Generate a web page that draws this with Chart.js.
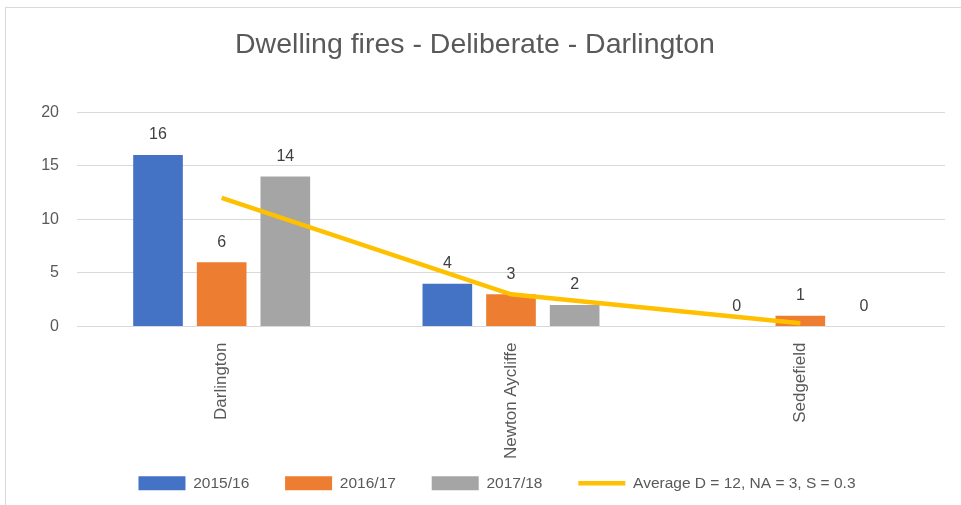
<!DOCTYPE html>
<html>
<head>
<meta charset="utf-8">
<script src="https://cdn.jsdelivr.net/npm/chart.js@4.4.1/dist/chart.umd.min.js"></script>
<style>
html, body { margin: 0; padding: 0; background: #fff; overflow: hidden; }
#wrap { position: relative; width: 961px; height: 505px; }
#frame { position: absolute; left: 5px; top: 7px; width: 1000px; height: 600px; border: 1px solid #d9d9d9; }
canvas { position: absolute; left: 0; top: 0; }
</style>
</head>
<body>
<div id="wrap">
  <div id="frame"></div>
  <canvas id="fireChart" width="961" height="505"></canvas>
</div>
<script>
// Data
const areas = ['Darlington', 'Newton Aycliffe', 'Sedgefield'];
const fires2015 = [16, 4, 0];
const fires2016 = [6, 3, 1];
const fires2017 = [14, 2, 0];
const averages = [12, 3, 0.3];
const yTicks = [0, 5, 10, 15, 20];

const FONT = '"Liberation Sans", Arial, sans-serif';
const TEXT_GREY = '#595959';

// Value labels above each bar
const barLabels = {
    id: 'barLabels',
    afterDatasetsDraw(chart) {
        const ctx = chart.ctx;
        ctx.save();
        ctx.font = '16px ' + FONT;
        ctx.fillStyle = '#404040';
        ctx.textAlign = 'center';
        ctx.textBaseline = 'bottom';
        chart.data.datasets.forEach((ds, i) => {
            if (ds.type === 'line') return;
            chart.getDatasetMeta(i).data.forEach((bar, j) => {
                ctx.fillText(ds.data[j], bar.x, bar.y - 12);
            });
        });
        ctx.restore();
    }
};

// legend sits a little right of centre in the original
const legendShift = {
    id: 'legendShift',
    afterLayout(chart) {
        chart.legend.left += 22;
        chart.legend.right += 22;
    }
};

function barSet(label, data, color) {
    return {
        type: 'bar',
        label: label,
        data: data,
        backgroundColor: color,
        borderWidth: 0,
        pointStyle: 'rect',
        categoryPercentage: 0.66,
        barPercentage: 0.78,
        order: 1
    };
}

// default legend items, with some trailing space to widen the gaps between them
function legendItems(chart) {
    const items = Chart.defaults.plugins.legend.labels.generateLabels(chart);
    items.forEach(item => {
        if (item.datasetIndex < 3) item.text = item.text + '      ';
    });
    return items.sort((a, b) => a.datasetIndex - b.datasetIndex);
}

const ctx = document.getElementById('fireChart').getContext('2d');
const fireChart = new Chart(ctx, {
    data: {
        labels: areas,
        datasets: [
            barSet('2015/16', fires2015, '#4472C4'),
            barSet('2016/17', fires2016, '#ED7D31'),
            barSet('2017/18', fires2017, '#A5A5A5'),
            {
                type: 'line',
                label: 'Average D = 12, NA = 3, S = 0.3',
                data: averages,
                borderColor: '#FFC000',
                backgroundColor: '#FFC000',
                borderWidth: 4.5,
                pointRadius: 0,
                pointStyle: 'line',
                tension: 0,
                order: 0
            }
        ]
    },
    options: {
        responsive: false,
        animation: false,
        layout: { padding: { left: 5, right: 16, top: 7, bottom: 4 } },
        plugins: {
            title: {
                display: true,
                text: 'Dwelling fires - Deliberate - Darlington',
                color: TEXT_GREY,
                font: { family: FONT, size: 28.5, weight: 'normal' },
                padding: { top: 21, bottom: 50 }
            },
            legend: {
                position: 'bottom',
                labels: {
                    usePointStyle: true,
                    pointStyleWidth: 47,
                    boxHeight: 14,
                    padding: 10,
                    color: TEXT_GREY,
                    font: { family: FONT, size: 15.5 },
                    generateLabels: legendItems
                }
            },
            tooltip: { enabled: false }
        },
        scales: {
            x: {
                grid: { display: false },
                border: { display: false },
                ticks: {
                    minRotation: 90,
                    maxRotation: 90,
                    padding: 8,
                    color: TEXT_GREY,
                    font: { family: FONT, size: 17 }
                },
                afterFit(scale) { scale.height = 139; }
            },
            y: {
                min: 0,
                max: 20,
                grid: { color: '#d9d9d9', drawTicks: false },
                border: { display: false },
                afterBuildTicks(scale) { scale.ticks = yTicks.map(v => ({ value: v })); },
                ticks: {
                    padding: 18,
                    color: TEXT_GREY,
                    font: { family: FONT, size: 16 }
                },
                afterFit(scale) { scale.width = 72; }
            }
        }
    },
    plugins: [barLabels, legendShift]
});
</script>
</body>
</html>
